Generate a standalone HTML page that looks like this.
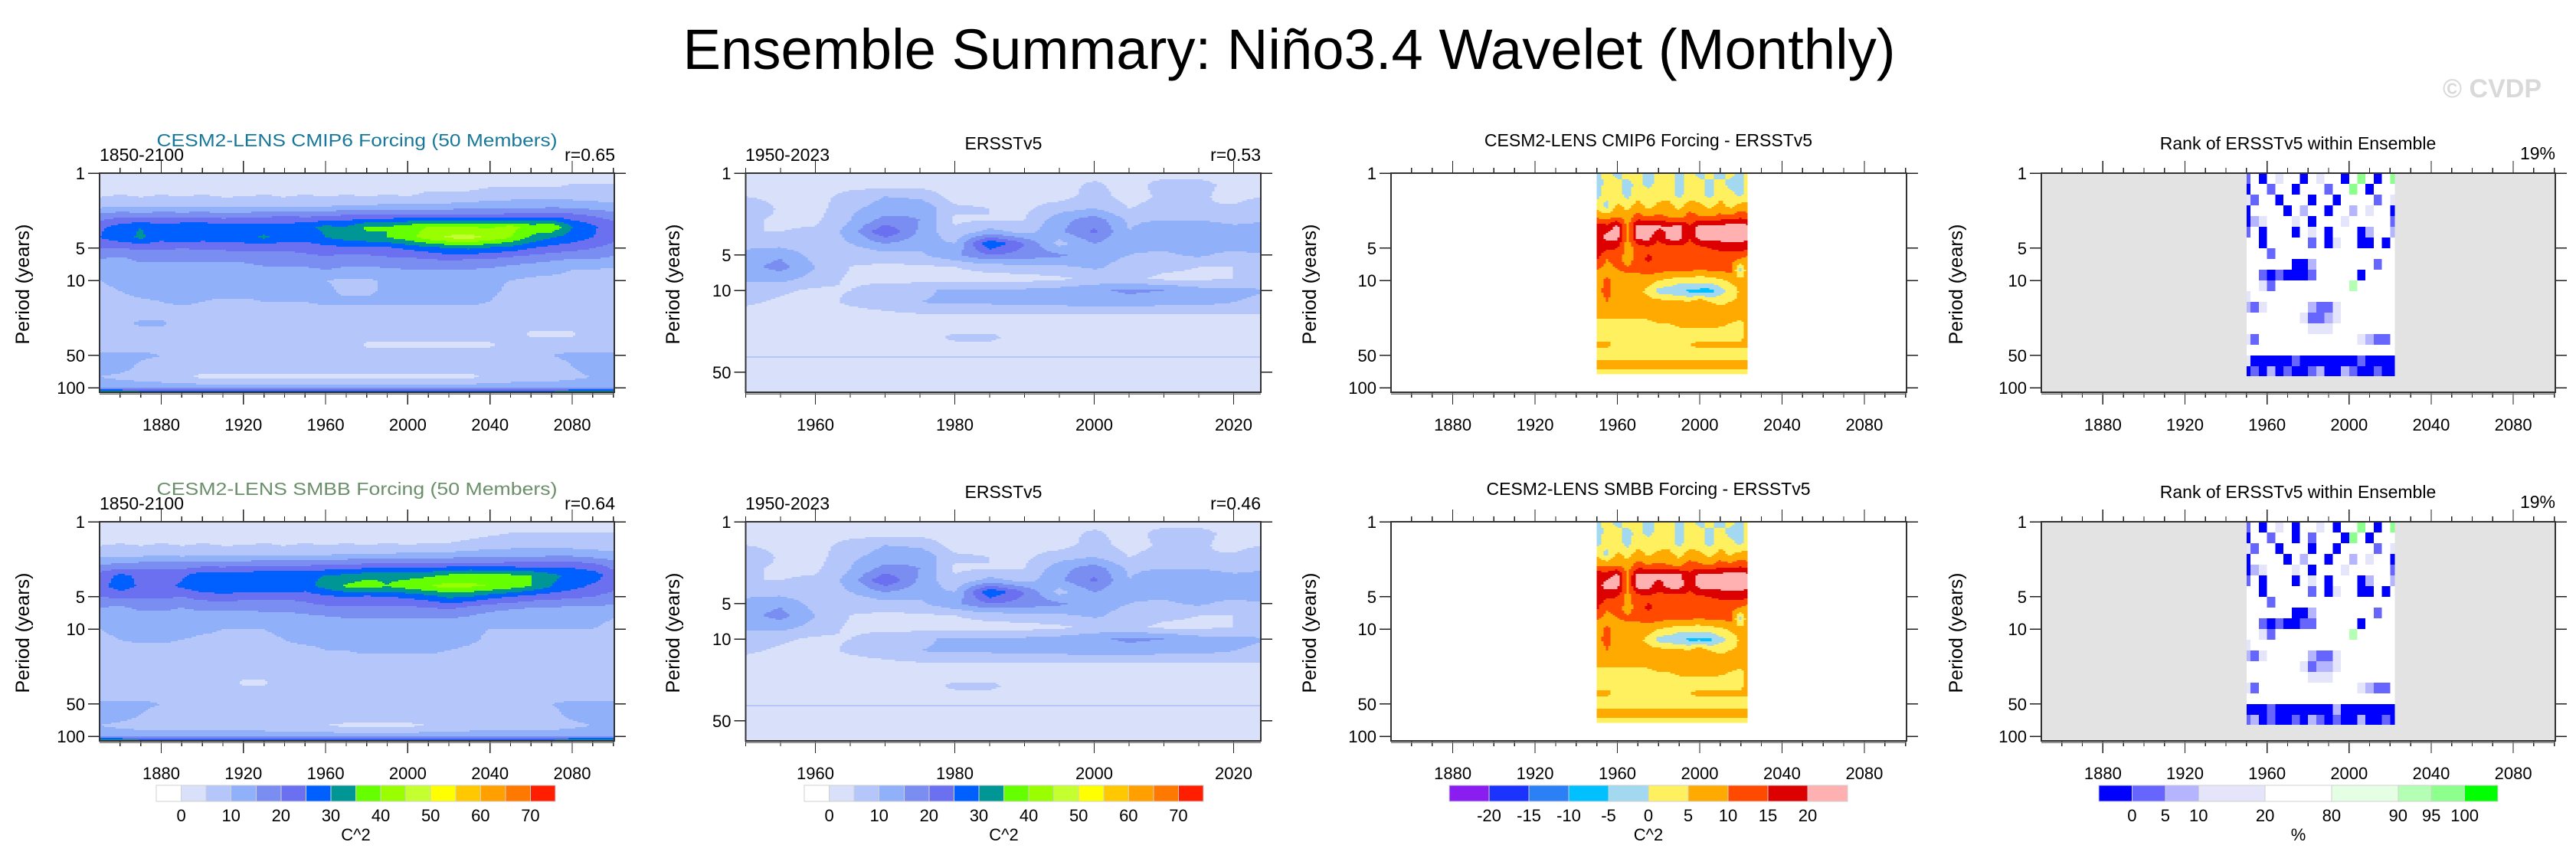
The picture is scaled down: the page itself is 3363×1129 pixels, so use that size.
<!DOCTYPE html>
<html><head><meta charset="utf-8"><title>Ensemble Summary: Niño3.4 Wavelet (Monthly)</title>
<style>
html,body{margin:0;padding:0;background:#fff;}
svg{display:block;font-family:"Liberation Sans",Arial,sans-serif;}
</style></head>
<body>
<svg id="fig" width="3363" height="1129" viewBox="0 0 3363 1129" xmlns="http://www.w3.org/2000/svg" shape-rendering="crispEdges">
<text x="1683" y="90" font-size="74" text-anchor="middle" textLength="1583" lengthAdjust="spacingAndGlyphs" shape-rendering="auto">Ensemble Summary: Niño3.4 Wavelet (Monthly)</text>
<text x="3318" y="127" font-size="34" font-weight="bold" fill="#d9d9d9" text-anchor="end">© CVDP</text>
</svg>
<script>
// ---------- DATA ----------
const ensYears = [1850,1860,1870,1880,1890,1900,1910,1920,1930,1940,1950,1960,1970,1980,1990,2000,2010,2020,2030,2040,2050,2060,2070,2080,2090,2100];
const ensPeriods = [1,1.26,1.58,2,2.51,3.16,3.98,5,6.31,7.94,10,12.6,15.8,20,25.1,31.6,39.8,50.1,63.1,79.4,100,110];
const cmip6Power = [
[2,2,2,2,2,2,2,2,2,2,2,2,2,2,2,2,2,2,2,2,2,2,2,2,2,2],
[3,3,3,3,3,3,3,3,3,3,3,3,3,3,3,3,3,3,3,4,4,4,4,5,5,5],
[4,5,4,5,4,5,4,4,5,4,5,4,5,4,5,4,6,6,6,7,7,7,7,7,7,7],
[8,9,8,9,9,9,8,9,9,8,9,9,10,10,11,11,11,11,12,12,13,13,13,13,12,11],
[17,19,18,19,18,19,18,18,19,20,19,20,21,21,22,22,22,22,22,22,22,22,23,22,20,18],
[24,27,30,27,29,29,27,28,27,27,29,31,30,36,35,38,40,41,40,39,42,38,40,30,26,22],
[25,28,31,27,30,27,29,28,31,28,27,30,32,34,35,38,43,46,47,44,40,34,30,28,25,22],
[20,20,21,21,20,21,21,22,21,21,22,23,24,23,24,26,28,30,31,29,28,25,23,22,20,18],
[15,14,16,16,16,16,16,16,17,17,18,19,17,18,19,19,20,21,20,20,18,17,16,15,15,14],
[12,12,13,13,13,13,13,13,14,14,14,15,14,14,14,15,15,15,15,14,13,12,11,10,10,9],
[10,11,12,12,12,12,12,12,12,12,12,10,9,9,11,12,12,12,12,11,10,9,9,9,9,9],
[9,10,12,12,12,12,12,12,12,12,12,11,9,9,11,12,12,12,12,11,9,8,8,8,8,8],
[8,8,9,10,11,10,9,9,10,10,10,11,11,11,11,11,11,11,11,10,8,8,8,8,8,8],
[8,8,8,8,8,8,8,8,8,8,8,8,8,8,8,8,8,8,8,8,8,8,8,8,8,8],
[8,8,11,11,8,8,8,8,8,8,8,8,8,8,8,8,8,8,8,8,8,8,8,8,8,8],
[8,8,8,8,8,8,8,8,8,8,8,8,8,8,8,8,8,8,8,8,8,4,4,4,8,8],
[8,8,8,8,8,8,8,8,8,8,8,8,8,4,4,4,4,4,4,4,8,8,8,8,8,8],
[11,11,11,10,9,8,8,8,8,8,8,8,8,8,8,8,8,8,8,8,8,9,10,11,11,11],
[12,12,9,8,8,7,7,7,7,7,7,7,7,7,7,7,7,7,7,7,7,7,8,10,12,12],
[10,9,8,7,6,4,4,4,4,4,4,4,4,4,4,4,4,4,4,6,7,7,8,9,10,10],
[13,13,13,13,13,13,13,13,13,13,13,13,13,13,13,13,13,13,13,13,13,13,13,13,13,13],
[37,37,32,30,30,30,30,30,30,30,30,30,30,30,30,30,30,30,30,30,30,30,32,37,37,37]
];
const smbbPower = [
[2,2,2,2,2,2,2,2,2,2,2,2,2,2,2,2,2,2,2,2,2,2,2,2,2,2],
[3,3,3,3,3,3,3,3,3,3,3,3,3,3,3,3,3,3,3,4,5,5,5,5,5,5],
[4,5,4,5,4,5,4,4,5,4,5,4,5,4,5,4,5,5,6,7,7,7,7,7,7,7],
[8,8,8,9,8,9,8,9,9,8,9,9,10,10,10,11,11,11,12,12,13,13,13,13,12,11],
[15,16,17,18,17,18,18,18,19,19,19,20,20,21,21,22,22,22,22,22,22,22,23,23,21,18],
[22,26,24,22,24,28,27,28,29,30,29,30,31,33,34,33,34,36,38,37,36,35,31,29,28,22],
[23,28,24,23,26,29,30,29,30,30,28,32,36,38,35,38,40,42,41,40,38,35,30,27,24,22],
[20,21,21,21,20,22,23,22,21,21,22,24,25,24,25,26,28,31,30,27,25,23,22,21,20,18],
[15,14,16,16,15,16,16,16,17,17,18,19,19,19,19,19,20,21,19,17,16,15,15,14,14,14],
[12,12,13,13,13,13,12,12,12,12,13,14,15,15,15,15,15,15,14,12,11,11,11,11,11,10],
[10,11,12,12,12,11,10,10,10,11,12,12,13,13,13,14,14,12,11,10,10,10,10,10,10,9],
[9,10,11,11,10,9,9,9,9,10,11,11,12,12,12,12,12,12,11,9,8,8,8,8,8,8],
[8,8,8,8,8,8,8,8,8,9,9,10,10,11,11,11,11,10,9,8,8,8,8,8,8,8],
[8,8,8,8,8,8,8,8,8,8,8,8,8,8,8,8,8,8,8,8,8,8,8,8,8,8],
[8,8,8,8,8,8,8,8,8,8,8,8,8,8,8,8,8,8,8,8,8,8,8,8,8,8],
[8,8,8,8,8,8,8,4,4,8,8,8,8,8,8,8,8,8,8,8,8,8,8,8,8,8],
[8,8,8,8,8,8,8,8,8,8,8,8,8,8,8,8,8,8,8,8,8,8,8,8,8,8],
[11,11,11,10,9,8,8,8,8,8,8,8,8,8,8,8,8,8,8,8,8,9,10,11,11,11],
[12,12,10,8,8,8,8,8,8,8,8,8,8,8,8,8,8,8,8,8,8,8,9,11,12,12],
[10,9,8,8,7,7,7,7,7,6,5,5,4,4,4,4,5,6,7,7,7,7,8,9,10,10],
[13,13,13,13,13,13,13,13,13,13,13,13,13,13,13,13,13,13,13,13,13,13,13,13,13,13],
[37,37,32,30,30,30,30,30,30,30,30,30,30,30,30,30,30,30,30,30,30,30,32,37,37,37]
];
const obsYears = [1950,1955,1960,1965,1970,1975,1980,1985,1990,1995,2000,2005,2010,2015,2020,2025];
const obsPeriods = [1,1.26,1.58,2,2.51,3.16,3.98,5,6.31,7.94,10,12.6,15.8,20,25.1,31.6,39.8,50.1,63.1,79.4];
const ersstPower = [
[3,3,3,3,3,3,3,3,3,3,3,3,3,3,3,3],
[3,3,3,3,3,3,3,3,3,3,6,3,7,7,3,3],
[5,3,3,7,10,9,3,3,3,3,7,3,6,6,3,5],
[10,4,3,9,12,14,6,5,4,8,10,5,7,5,6,11],
[6,4,4,10,17,15,4,5,5,13,18,9,10,10,8,10],
[5,5,6,12,25,14,6,12,8,14,21,10,15,15,13,12],
[8,8,6,10,15,12,10,30,20,8,15,11,12,12,14,13],
[12,14,8,6,8,9,14,20,18,16,12,10,9,11,8,10],
[13,17,10,5,4,4,5,7,8,9,11,8,6,5,5,9],
[11,12,8,4,3,3,3,3,3,4,6,6,4,4,5,9],
[8,6,4,5,8,9,11,11,11,12,14,16,15,12,11,10],
[6,4,3,6,8,10,11,11,12,12,13,13,12,12,10,9],
[3,3,3,3,4,5,5,5,5,5,5,5,5,5,5,5],
[3,3,3,3,3,3,3,3,3,3,3,3,3,3,3,3],
[3,3,3,3,3,3,6,6,3,3,3,3,3,3,3,3],
[3,3,3,3,3,3,3,3,3,3,3,3,3,3,3,3],
[3,3,3,3,3,3,3,3,3,3,3,3,3,3,3,3],
[3,3,3,3,3,3,3,3,3,3,3,3,3,3,3,3],
[3,3,3,3,3,3,3,3,3,3,3,3,3,3,3,3],
[3,3,3,3,3,3,3,3,3,3,3,3,3,3,3,3]
];
const diffYears = [1950,1955,1960,1965,1970,1975,1980,1985,1990,1995,2000,2005,2010,2015,2020,2023];
const diffPeriods = [1,1.26,1.58,2,2.51,3.16,3.98,5,6.31,7.94,10,12.6,15.8,20,25.1,31.6,39.8,50.1,63.1,74];
const cmip6Diff = [
[-2,2,-2,2,2,-2,2,2,-2,2,-2,2,-2,2,-2,2],
[-3,2,2,-2,2,-2,2,2,-2,2,2,-2,2,-2,-2,2],
[-2,3,2,-2,3,2,3,2,-2,3,2,-2,3,2,-2,3],
[3,-2,6,3,7,3,6,7,3,7,6,3,7,3,7,6],
[8,7,9,7,12,9,11,9,7,12,10,9,11,11,13,12],
[18,17,22,8,22,22,21,20,22,15,22,22,22,23,23,22],
[17,22,22,8,22,22,16,22,23,15,22,22,22,23,22,22],
[18,16,15,7,12,14,12,12,13,13,13,15,16,17,17,16],
[16,10,12,8,12,16,14,12,12,11,11,12,12,11,10,8],
[10,8,10,11,11,13,12,11,11,11,10,11,11,12,-2,8],
[7,11,8,7,7,7,5,4,2,2,2,2,4,6,7,6],
[8,12,7,6,6,4,-2,-3,-4,-6,-7,-7,-3,2,6,6],
[7,10,7,7,7,7,7,6,6,5,9,5,4,5,6,7],
[7,7,7,7,7,7,7,7,7,7,7,7,7,7,7,7],
[3,3,3,3,3,4,5,5,6,7,7,7,6,5,4,6],
[3,3,3,3,3,3,3,3,3,3,3,3,3,3,3,7],
[6,6,4,3,3,3,3,3,3,5,6,6,6,6,6,6],
[3,3,3,3,3,3,3,3,3,3,3,3,3,3,3,3],
[7,7,7,7,7,7,7,7,7,7,7,7,7,7,7,7],
[3,3,3,3,3,3,3,3,3,3,3,3,3,3,3,3]
];
const smbbDiff = [
[-2,2,-2,2,2,-2,2,2,-2,2,-2,2,-2,2,-2,2],
[-3,2,2,-2,2,-2,2,2,-2,2,2,-2,2,-2,-2,2],
[-2,3,2,-2,3,2,3,2,-2,3,2,-2,3,2,-2,3],
[4,-2,6,3,7,4,6,7,3,7,6,3,7,4,7,6],
[9,8,9,7,12,10,11,10,8,12,11,9,12,11,13,12],
[19,18,22,9,22,22,22,21,22,16,22,22,22,23,23,22],
[18,22,22,9,22,22,17,22,23,16,22,22,22,23,22,22],
[18,16,15,8,13,14,13,12,13,13,14,15,16,17,17,16],
[16,11,12,8,12,16,14,12,12,11,11,12,12,11,10,8],
[11,8,10,11,11,13,12,11,11,11,10,11,11,12,-2,8],
[7,11,8,7,7,7,5,4,2,2,2,3,4,6,7,6],
[8,12,7,6,6,4,-2,-3,-4,-6,-6,-6,-2,2,6,6],
[7,10,7,7,7,7,7,6,6,5,9,5,4,5,6,7],
[7,7,7,7,7,7,7,7,7,7,7,7,7,7,7,7],
[3,3,3,3,3,4,5,5,6,7,7,7,6,5,4,6],
[3,3,3,3,3,3,3,3,3,3,3,3,3,3,3,7],
[6,6,4,3,3,3,3,3,3,5,6,6,6,6,6,6],
[3,3,3,3,3,3,3,3,3,3,3,3,3,3,3,3],
[7,7,7,7,7,7,7,7,7,7,7,7,7,7,7,7],
[3,3,3,3,3,3,3,3,3,3,3,3,3,3,3,3]
];
const rankYears = [1950,1954,1958,1962,1966,1970,1974,1978,1982,1986,1990,1994,1998,2002,2006,2010,2014,2018,2022];
const rankLogEdges = [0,0.1,0.2,0.3,0.4,0.5,0.6,0.7,0.8,0.9,1.0,1.1,1.2,1.3,1.4,1.5,1.6,1.7,1.8,1.89];
const cmip6Rank = [
[3,50,0,50,15,50,50,0,50,15,50,50,0,50,97,50,0,50,96],
[0,50,50,3,50,50,0,50,50,50,3,50,50,96,50,0,50,50,50],
[15,3,50,50,0,50,50,50,0,50,50,0,50,50,50,50,3,50,15],
[0,50,50,50,50,0,50,7,50,50,0,50,50,7,50,15,50,50,0],
[0,7,15,50,50,50,15,50,0,50,50,50,15,50,50,50,50,50,3],
[3,50,0,50,50,50,0,50,15,50,0,50,50,50,0,7,50,50,7],
[50,50,0,50,50,50,50,50,3,50,0,15,50,50,0,0,50,0,50],
[50,50,50,3,50,50,50,50,50,50,50,50,50,50,50,50,50,50,50],
[50,50,50,50,50,50,0,0,7,50,50,50,50,50,50,50,3,50,50],
[50,50,3,0,3,0,0,0,3,50,50,50,50,50,0,50,50,50,50],
[50,50,15,3,50,50,50,50,50,50,50,50,50,90,50,50,50,50,50],
[15,50,50,50,50,50,50,50,50,50,50,50,50,50,50,50,50,50,50],
[7,3,15,50,50,50,50,50,7,3,3,15,50,50,50,50,50,50,50],
[50,50,50,50,50,50,50,15,3,3,7,15,50,50,50,50,50,50,50],
[50,50,50,50,50,50,50,50,15,15,15,50,50,50,50,50,50,50,50],
[15,3,50,50,50,50,50,50,50,50,50,50,50,50,15,7,3,3,50],
[50,50,50,50,50,50,50,50,50,50,50,50,50,50,50,50,50,50,50],
[15,0,0,0,0,0,3,0,0,0,0,0,0,0,3,0,0,0,0],
[0,3,0,7,0,3,0,0,3,7,0,0,7,3,0,0,3,0,0]
];
const smbbRank = [
[3,50,0,50,15,50,0,50,50,15,50,0,50,50,97,50,0,50,96],
[0,50,50,3,50,50,0,50,3,50,50,50,0,96,50,0,50,50,50],
[15,3,50,50,0,50,50,50,0,50,50,0,50,50,50,50,3,50,15],
[0,50,50,50,50,0,50,7,50,50,0,50,50,7,50,15,50,50,0],
[0,7,15,50,50,50,15,50,0,50,50,50,15,50,50,50,50,50,3],
[3,50,0,50,50,50,0,50,15,50,0,50,50,50,0,7,50,50,7],
[50,50,0,50,50,50,50,50,3,50,0,15,50,50,0,0,50,0,50],
[50,50,50,3,50,50,50,50,50,50,50,50,50,50,50,50,50,50,50],
[50,50,50,50,50,50,0,0,7,50,50,50,50,50,50,50,3,50,50],
[50,50,3,0,3,0,0,3,3,50,50,50,50,50,0,50,50,50,50],
[50,50,15,3,50,50,50,50,50,50,50,50,50,90,50,50,50,50,50],
[15,50,50,50,50,50,50,50,50,50,50,50,50,50,50,50,50,50,50],
[7,3,15,50,50,50,50,50,7,3,3,15,50,50,50,50,50,50,50],
[50,50,50,50,50,50,50,15,3,7,7,15,50,50,50,50,50,50,50],
[50,50,50,50,50,50,50,50,15,15,15,50,50,50,50,50,50,50,50],
[15,3,50,50,50,50,50,50,50,50,50,50,50,50,15,7,3,3,50],
[50,50,50,50,50,50,50,50,50,50,50,50,50,50,50,50,50,50,50],
[0,0,0,3,0,0,0,0,0,0,0,7,0,0,0,0,0,0,0],
[3,7,0,3,0,0,3,0,7,3,0,3,0,0,7,0,0,3,0]
];
const powerColors = ["#ffffff","#d8e0fa","#b4c6fa","#90b0fa","#7a8ef2","#6a70f0","#0060ff","#009696","#66ff00","#99ff00","#c4ff30","#ffff00","#ffc800","#ffa000","#ff7800","#ff1e00"];
const powerLabels = ["0","10","20","30","40","50","60","70"];
const diffColors = ["#8a1ef0","#1a33ff","#2b80f5","#00c0ff","#a2d8f0","#fff060","#ffaa00","#ff4a00","#dd0000","#ffb0b0"];
const diffLabels = ["-20","-15","-10","-5","0","5","10","15","20"];
const rankColors = ["#0000ff","#6666ff","#b4b4ff","#e4e4fa","#ffffff","#e4ffe4","#b4ffb4","#8cff8c","#00ff00"];
const rankLevels = [0,5,10,20,80,90,95,100];

// ---------- DRAWING ----------
const NS = "http://www.w3.org/2000/svg";
const svg = document.getElementById("fig");
function el(tag, attrs, parent){
  const e = document.createElementNS(NS, tag);
  for (const k in attrs) e.setAttribute(k, attrs[k]);
  (parent||svg).appendChild(e);
  return e;
}
function powerColor(v){ if (v < 0) return powerColors[0]; return powerColors[Math.min(15, Math.floor(v/5)+1)]; }
function diffColor(v){ return diffColors[Math.max(0, Math.min(9, Math.floor((v+25)/5)))]; }
function rankColor(v){ if (v <= 0) return rankColors[0]; let i=0; while (i<rankLevels.length && v>=rankLevels[i]) i++; return rankColors[i]; }

function makeAxes(cfg){
  const xs = yr => cfg.x0 + (yr - cfg.ymin)/(cfg.ymax - cfg.ymin)*cfg.w;
  const xinv = px => cfg.ymin + (px - cfg.x0)/cfg.w*(cfg.ymax - cfg.ymin);
  const ys = p => cfg.y0 + Math.log10(p)*cfg.pxd;
  const yinv = py => (py - cfg.y0)/cfg.pxd;
  return {xs, xinv, ys, yinv};
}
function interp(arr, v){
  if (v <= arr[0]) return [0,0];
  for (let i=0;i<arr.length-1;i++){ if (v <= arr[i+1]) return [i,(v-arr[i])/(arr[i+1]-arr[i])]; }
  return [arr.length-2,1];
}
function drawContour(g, cfg, ax, years, periods, grid, colorFn){
  const lp = periods.map(p => Math.log10(p));
  const xL = Math.max(cfg.x0, ax.xs(years[0])), xR = Math.min(cfg.x0+cfg.w, ax.xs(years[years.length-1]));
  const yT = Math.max(cfg.y0, ax.ys(periods[0])), yB = Math.min(cfg.y0+cfg.h, ax.ys(periods[periods.length-1]));
  const dx = 3, dy = 2;
  function flush(x1, x2, py, color){
    const r = el("rect", {x: x1.toFixed(1), y: py.toFixed(1), width: (x2-x1+0.6).toFixed(1), height: (Math.min(dy, yB-py)+0.6).toFixed(1), fill: color}, g);
    
    
  }
  for (let py = yT; py < yB; py += dy){
    const [i,t] = interp(lp, ax.yinv(py + dy/2));
    let runStart = xL, runColor = null;
    for (let px = xL; px < xR; px += dx){
      const [j,u] = interp(years, ax.xinv(Math.min(px + dx/2, xR)));
      const v = (1-t)*((1-u)*grid[i][j] + u*grid[i][j+1]) + t*((1-u)*grid[i+1][j] + u*grid[i+1][j+1]);
      const c = colorFn(v);
      if (c !== runColor){
        if (runColor !== null) flush(runStart, px, py, runColor);
        runStart = px; runColor = c;
      }
    }
    if (runColor !== null) flush(runStart, xR, py, runColor);
  }
}
function drawRank(g, cfg, ax, years, logEdges, grid){
  const half = (years[1]-years[0])/2;
  for (let i=0;i<grid.length;i++){
    for (let j=0;j<years.length;j++){
      const x1 = ax.xs(years[j]-half < 1950 ? 1950 : years[j]-half);
      const x2 = ax.xs(years[j]+half > 2022 ? 2022 : years[j]+half);
      const y1 = cfg.y0 + logEdges[i]*cfg.pxd, y2 = cfg.y0 + logEdges[i+1]*cfg.pxd;
      const r = el("rect", {x:x1.toFixed(1), y:y1.toFixed(1), width:(x2-x1+0.5).toFixed(1), height:(y2-y1+0.5).toFixed(1), fill: rankColor(grid[i][j])}, g);
      
      
    }
  }
}
function text(g, x, y, str, size, anchor, fill, name, extra){
  const t = el("text", Object.assign({x:x, y:y, "font-size":size, "text-anchor":anchor||"start", fill:fill||"#000", "shape-rendering":"auto"}, extra||{}), g);
  t.textContent = str;
  
  
  return t;
}
function drawFrame(g, cfg, ax){
  const bot = cfg.y0 + cfg.h, right = cfg.x0 + cfg.w;
  for (let yr = cfg.minorStart; yr <= cfg.ymax + 0.01; yr += cfg.minorStep){
    const major = cfg.majors.indexOf(yr) >= 0;
    const len = major ? 16 : 7, x = ax.xs(yr);
    const t1 = el("line", {x1:x, x2:x, y1:cfg.y0, y2:cfg.y0-len, stroke:"#222", "stroke-width":1.3}, g);
    
    
    const t2 = el("line", {x1:x, x2:x, y1:bot, y2:bot+len, stroke:"#222", "stroke-width":1.3}, g);
    
    
    if (major) text(g, x, bot+50, String(yr), 22, "middle", "#000", "x-tick-label");
  }
  for (const p of cfg.yticks){
    const y = ax.ys(p);
    const a = el("line", {x1:cfg.x0-15, x2:cfg.x0, y1:y, y2:y, stroke:"#222", "stroke-width":1.5}, g);
    
    
    const b = el("line", {x1:right, x2:right+15, y1:y, y2:y, stroke:"#222", "stroke-width":1.5}, g);
    
    
    text(g, cfg.x0-19, y+8, String(p), 22, "end", "#000", "y-tick-label");
  }
  const box = el("rect", {x:cfg.x0, y:cfg.y0, width:cfg.w, height:cfg.h, fill:"none", stroke:"#333", "stroke-width":1.6}, g);
  
  
  const bl = el("line", {x1:cfg.x0, x2:right, y1:bot+2, y2:bot+2, stroke:"#777", "stroke-width":1.5}, g);
  
  
  text(g, 0, 0, "Period (years)", 25, "middle", "#000", "y-axis-title", {transform:`translate(${cfg.ylabX},${cfg.y0+145}) rotate(-90)`});
}
function colorbar(name, x0, x1, y, colors, widths, labels, labelPos, unit){
  const g = el("g", {});
  
  
  const total = widths.reduce((a,b)=>a+b,0);
  let x = x0; const edges = [x0];
  colors.forEach((c,i)=>{
    const w = widths[i]/total*(x1-x0);
    const r = el("rect", {x:x, y:y, width:w, height:21, fill:c, stroke:"#d0d0d0", "stroke-width":1}, g);
    
    
    x += w; edges.push(x);
  });
  labels.forEach((l,i)=>{ text(g, edges[labelPos[i]], y+47, l, 22, "middle", "#000", "colorbar-label"); });
  text(g, (x0+x1)/2, y+72, unit, 22, "middle", "#000", "colorbar-unit");
}

const rowOffsets = [0, 455];
const rowsData = [
  {power: cmip6Power, diff: cmip6Diff, rank: cmip6Rank, sub: "CESM2-LENS CMIP6 Forcing (50 Members)", subColor:"#17789a", r1:"r=0.65", r2:"r=0.53", dTitle:"CESM2-LENS CMIP6 Forcing - ERSSTv5"},
  {power: smbbPower, diff: smbbDiff, rank: smbbRank, sub: "CESM2-LENS SMBB Forcing (50 Members)", subColor:"#6a8f6a", r1:"r=0.64", r2:"r=0.46", dTitle:"CESM2-LENS SMBB Forcing - ERSSTv5"}
];
rowsData.forEach((rd, ri) => {
  const oy = rowOffsets[ri];
  const longCfg = x0 => ({x0:x0, w:672, y0:226+oy, h:286, pxd:140, ymin:1850, ymax:2100.5, minorStart:1860, minorStep:10, majors:[1880,1920,1960,2000,2040,2080], yticks:[1,5,10,50,100]});
  let cfg = longCfg(130); cfg.ylabX = 38;
  let g = el("g", {});  
  let ax = makeAxes(cfg);
  drawContour(g, cfg, ax, ensYears, ensPeriods, rd.power, powerColor);
  drawFrame(g, cfg, ax);
  text(g, 466, 191+oy, rd.sub, 23, "middle", rd.subColor, "ensemble-title", {textLength:523, lengthAdjust:"spacingAndGlyphs"});
  text(g, 130, 210+oy, "1850-2100", 23, "start", "#000", "period-label");
  text(g, 803, 210+oy, rd.r1, 23, "end", "#000", "pattern-correlation");
  cfg = {x0:973.5, w:672.5, y0:226+oy, h:286, pxd:153, ymin:1950, ymax:2023.9, minorStart:1950, minorStep:5, majors:[1960,1980,2000,2020], yticks:[1,5,10,50], ylabX:887};
  g = el("g", {});  
  ax = makeAxes(cfg);
  drawContour(g, cfg, ax, obsYears, obsPeriods, ersstPower, powerColor);
  const ln = el("rect", {x:cfg.x0, y:ax.ys(37)-1, width:cfg.w, height:2, fill:"#b4c6fa"}, g);
  
  
  drawFrame(g, cfg, ax);
  text(g, 1310, 195+oy, "ERSSTv5", 23, "middle", "#000", "obs-title");
  text(g, 973, 210+oy, "1950-2023", 23, "start", "#000", "period-label");
  text(g, 1646, 210+oy, rd.r2, 23, "end", "#000", "pattern-correlation");
  cfg = longCfg(1816); cfg.ylabX = 1718; cfg.w = 673;
  g = el("g", {});  
  ax = makeAxes(cfg);
  drawContour(g, cfg, ax, diffYears, diffPeriods, rd.diff, diffColor);
  drawFrame(g, cfg, ax);
  text(g, 2152, 191+oy, rd.dTitle, 23, "middle", "#000", "difference-title");
  cfg = longCfg(2665); cfg.ylabX = 2562; cfg.w = 671;
  g = el("g", {});  
  ax = makeAxes(cfg);
  const bg = el("rect", {x:cfg.x0, y:cfg.y0, width:cfg.w, height:cfg.h, fill:"#e3e3e3"}, g);
  
  
  drawRank(g, cfg, ax, rankYears, rankLogEdges, rd.rank);
  drawFrame(g, cfg, ax);
  text(g, 3000, 195+oy, "Rank of ERSSTv5 within Ensemble", 23, "middle", "#000", "rank-title");
  text(g, 3336, 208+oy, "19%", 23, "end", "#000", "rank-percent");
});

colorbar("colorbar-ensemble", 204, 725, 1025, powerColors, powerColors.map(()=>1), powerLabels, [1,3,5,7,9,11,13,15], "C^2");
colorbar("colorbar-ersst", 1050, 1571, 1025, powerColors, powerColors.map(()=>1), powerLabels, [1,3,5,7,9,11,13,15], "C^2");
colorbar("colorbar-difference", 1892, 2412, 1025, diffColors, diffColors.map(()=>1), diffLabels, [1,2,3,4,5,6,7,8,9], "C^2");
colorbar("colorbar-rank", 2740, 3261, 1025, rankColors, [1,1,1,2,2,2,1,1,1], rankLevels.map(String), [1,2,3,4,5,6,7,8], "%");
</script>
</body></html>
